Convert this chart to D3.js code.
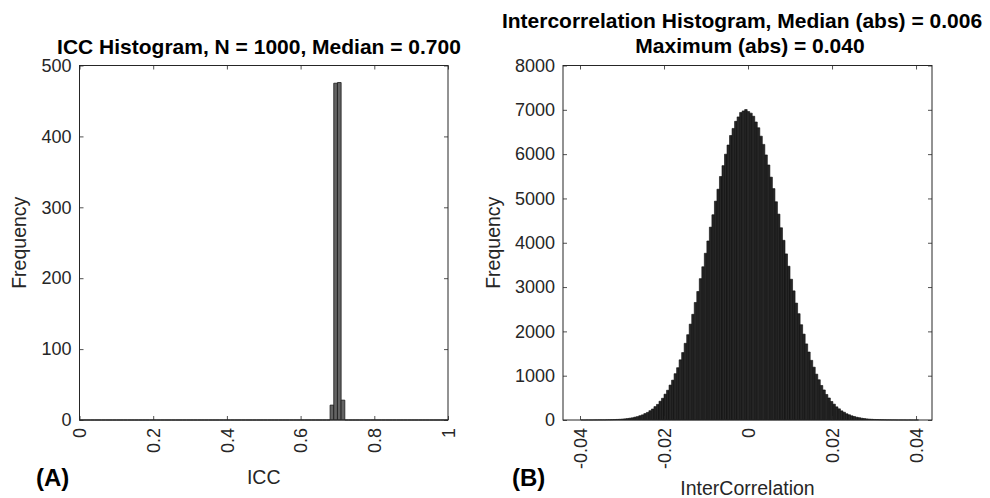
<!DOCTYPE html>
<html><head><meta charset="utf-8">
<script src="https://cdn.jsdelivr.net/npm/d3@7"></script>
<style>
html,body{margin:0;padding:0;background:#fff;}
svg{display:block;font-family:"Liberation Sans",Arial,Helvetica,sans-serif;}
</style></head><body>
<svg id="c" width="990" height="498"></svg>
<script>
// ---------- DATA ----------
// Panel A: ICC histogram, bins of width 0.01 on [0,1]
const iccBinStart = 0, iccBinWidth = 0.01, iccBinCount = 100;
const iccNonZeroBins = [68, 69, 70, 71];
const iccNonZeroCounts = [21, 475, 476, 28];
const iccXTicks = [0, 0.2, 0.4, 0.6, 0.8, 1];
const iccXTickLabels = ["0", "0.2", "0.4", "0.6", "0.8", "1"];
const iccYTicks = [0, 100, 200, 300, 400, 500];

// Panel B: intercorrelation histogram, bins of width 0.0006 starting at -0.0398
const interBinStart = -0.0398, interBinWidth = 0.0006;
const interCounts = [
  1,0,1,1,1,2,2,3,3,3,5,6,8,10,13,16,21,26,33,41,50,64,77,97,116,145,171,210,248,302,
  352,423,490,583,671,788,899,1045,1180,1358,1522,1730,1925,2163,2385,2652,2900,3190,3458,3762,
  4040,4352,4632,4938,5208,5495,5740,5998,6205,6420,6580,6740,6840,6940,6975,7005,6960,6925,6855,6725,
  6595,6405,6220,5982,5755,5480,5222,4925,4646,4338,4055,3748,3470,3176,2914,2638,2399,2150,1938,1717,
  1534,1346,1192,1034,908,779,678,576,497,418,357,297,252,206,175,141,118,95,79,62,
  52,40,33,25,20,16,12,10,8,6,5,3,3,2,2,1,1,1,1,0,1,0,0,1
];
const interXTicks = [-0.04, -0.02, 0, 0.02, 0.04];
const interXTickLabels = ["-0.04", "-0.02", "0", "0.02", "0.04"];
const interYTicks = [0, 1000, 2000, 3000, 4000, 5000, 6000, 7000, 8000];

// ---------- DRAW ----------
const svg = d3.select("#c");
const axisColor = "#262626";
const tickLen = 4;

function panel(opt) {
  const x = d3.scaleLinear().domain(opt.xDomain).range([opt.left, opt.right]);
  const y = d3.scaleLinear().domain(opt.yDomain).range([opt.bottom, opt.top]);
  const g = svg.append("g");

  // bars
  g.append("g").selectAll("path").data(opt.bins).join("path")
    .attr("d", d => {
      const x0 = x(d.x0), x1 = x(d.x1), y0 = y(0), y1 = y(d.count);
      return `M${x0},${y0}V${y1}H${x1}V${y0}Z`;
    })
    .attr("fill", opt.fill)
    .attr("stroke", opt.stroke)
    .attr("stroke-width", opt.strokeWidth);

  // axes using d3 axis generators (ticks inward)
  const fmtX = (d, i) => opt.xTickLabels[i];
  const bottomAxis = g.append("g").attr("transform", `translate(0,${opt.bottom})`)
    .call(d3.axisBottom(x).tickValues(opt.xTicks).tickSizeInner(-tickLen).tickSizeOuter(0).tickFormat(fmtX));
  const topAxis = g.append("g").attr("transform", `translate(0,${opt.top})`)
    .call(d3.axisTop(x).tickValues(opt.xTicks).tickSizeInner(-tickLen).tickSizeOuter(0).tickFormat(""));
  const leftAxis = g.append("g").attr("transform", `translate(${opt.left},0)`)
    .call(d3.axisLeft(y).tickValues(opt.yTicks).tickSizeInner(-tickLen).tickSizeOuter(0).tickPadding(8).tickFormat(d3.format("d")));
  const rightAxis = g.append("g").attr("transform", `translate(${opt.right},0)`)
    .call(d3.axisRight(y).tickValues(opt.yTicks).tickSizeInner(-tickLen).tickSizeOuter(0).tickFormat(""));

  [bottomAxis, topAxis, leftAxis, rightAxis].forEach(a => {
    a.select(".domain").remove();
    a.selectAll(".tick line").attr("stroke", axisColor).attr("stroke-width", 0.8);
  });
  leftAxis.selectAll("text").attr("font-size", 18).attr("fill", axisColor)
    .attr("font-family", "Liberation Sans, Arial, sans-serif");
  bottomAxis.selectAll("text").attr("font-size", 18).attr("fill", axisColor)
    .attr("font-family", "Liberation Sans, Arial, sans-serif")
    .attr("transform", "rotate(-90)")
    .attr("text-anchor", "end")
    .attr("x", -8).attr("y", 0).attr("dy", "0.35em");

  // box
  g.append("rect").attr("x", opt.left).attr("y", opt.top)
    .attr("width", opt.right - opt.left).attr("height", opt.bottom - opt.top)
    .attr("fill", "none").attr("stroke", axisColor).attr("stroke-width", 1);

  // titles
  opt.title.forEach((t, i) => {
    svg.append("text").attr("x", opt.titleX[i])
      .attr("y", opt.titleY + i * 25)
      .attr("text-anchor", "middle").attr("font-weight", "bold").attr("font-size", 21)
      .attr("fill", "#000").text(t);
  });
  // x label
  svg.append("text").attr("x", (opt.left + opt.right) / 2).attr("y", opt.xLabelY)
    .attr("text-anchor", "middle").attr("font-size", 19.5).attr("fill", axisColor).text(opt.xLabel);
  // y label
  svg.append("text").attr("transform", `translate(${opt.yLabelX},${(opt.top + opt.bottom) / 2}) rotate(-90)`)
    .attr("text-anchor", "middle").attr("font-size", 19.5).attr("fill", axisColor).text("Frequency");
  // panel letter
  svg.append("text").attr("x", opt.letterX).attr("y", 486)
    .attr("font-weight", "bold").attr("font-size", 24).attr("fill", "#000").text(opt.letter);
}

const iccCounts = d3.range(iccBinCount).map(i => {
  const k = iccNonZeroBins.indexOf(i);
  return k >= 0 ? iccNonZeroCounts[k] : 0;
});
const iccBins = iccCounts.map((c, i) => ({x0: iccBinStart + i * iccBinWidth, x1: iccBinStart + (i + 1) * iccBinWidth, count: c}));
const interBins = interCounts.map((c, i) => ({x0: interBinStart + i * interBinWidth, x1: interBinStart + (i + 1) * interBinWidth, count: c}));

panel({
  left: 79.5, right: 448, top: 65.5, bottom: 420,
  xDomain: [0, 1], yDomain: [0, 500],
  bins: iccBins, fill: "#636363", stroke: "#1a1a1a", strokeWidth: 0.8,
  xTicks: iccXTicks, xTickLabels: iccXTickLabels, yTicks: iccYTicks,
  title: ["ICC Histogram, N = 1000, Median = 0.700"], titleX: [259], titleY: 54,
  xLabel: "ICC", xLabelY: 484, yLabelX: 26, letter: "(A)", letterX: 36
});
panel({
  left: 563, right: 932, top: 65.5, bottom: 420,
  xDomain: [-0.04405, 0.0438], yDomain: [0, 8000],
  bins: interBins, fill: "#262626", stroke: "#0a0a0a", strokeWidth: 0.6,
  xTicks: interXTicks, xTickLabels: interXTickLabels, yTicks: interYTicks,
  title: ["Intercorrelation Histogram, Median (abs) = 0.006", "Maximum (abs) = 0.040"], titleX: [742, 750], titleY: 28,
  xLabel: "InterCorrelation", xLabelY: 495, yLabelX: 500, letter: "(B)", letterX: 512
});
</script>
</body></html>
